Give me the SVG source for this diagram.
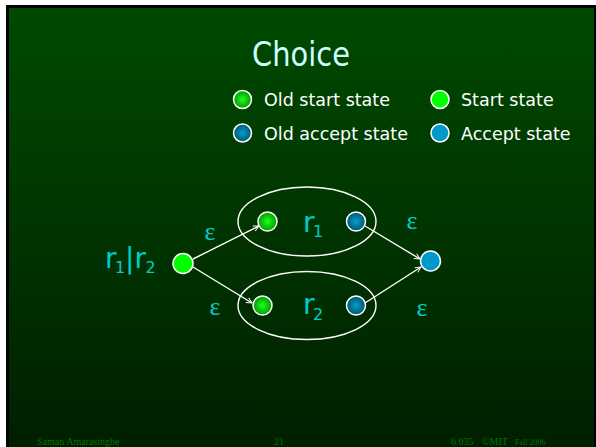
<svg xmlns="http://www.w3.org/2000/svg" width="596" height="447" viewBox="0 0 596 447">
  <defs>
    <linearGradient id="bg" x1="0" y1="0" x2="0" y2="1">
      <stop offset="0" stop-color="#004a00"/>
      <stop offset="1" stop-color="#001f00"/>
    </linearGradient>
    <radialGradient id="oldStart" cx="0.5" cy="0.5" r="0.5">
      <stop offset="0" stop-color="#22ff22"/>
      <stop offset="1" stop-color="#009a00"/>
    </radialGradient>
    <radialGradient id="oldAccept" cx="0.5" cy="0.5" r="0.5">
      <stop offset="0" stop-color="#0a9ccc"/>
      <stop offset="1" stop-color="#035670"/>
    </radialGradient>
    <marker id="arrow" viewBox="0 0 10 10" refX="9" refY="5" markerWidth="7" markerHeight="7" markerUnits="userSpaceOnUse" orient="auto">
      <path d="M1,1 L9,5 L1,9" fill="none" stroke="#ffffff" stroke-width="1.3"/>
    </marker>
    <style>
      .title { font-family: "DejaVu Sans", sans-serif; font-size: 34px; fill: #ccffff; }
      .legend { font-family: "DejaVu Sans", sans-serif; font-size: 17.5px; fill: #ffffff; }
      .lbl { font-family: "DejaVu Sans", sans-serif; font-size: 28px; fill: #00cccc; }
      .sub { font-size: 16px; }
      .eps { font-family: "Liberation Serif", serif; font-size: 26px; fill: #00cccc; text-anchor: middle; }
      .foot { font-family: "Liberation Serif", serif; font-size: 10px; fill: #007400; }
      .st { stroke: #ffffff; stroke-width: 1.5; }
      .oldstart { fill: url(#oldStart); }
      .start { fill: #00ff00; }
      .oldaccept { fill: url(#oldAccept); }
      .accept { fill: #0099cc; }
      .box { fill: none; stroke: #ffffff; stroke-width: 1.4; }
      .edge { stroke: #ffffff; stroke-width: 1.4; fill: none; marker-end: url(#arrow); }
    </style>
  </defs>

  <!-- slide frame -->
  <rect x="0" y="0" width="596" height="447" fill="#ffffff"/>
  <rect x="6" y="5" width="590" height="442" fill="#000000"/>
  <rect x="9" y="8" width="585" height="439" fill="url(#bg)"/>

  <text class="title" x="301" y="66" text-anchor="middle" textLength="98" lengthAdjust="spacingAndGlyphs">Choice</text>

  <!-- legend -->
  <g id="legend">
    <circle class="oldstart st" cx="242.5" cy="99.5" r="9"/>
    <text class="legend" x="264" y="106">Old start state</text>
    <circle class="start st" cx="440" cy="99.5" r="9"/>
    <text class="legend" x="461" y="106">Start state</text>
    <circle class="oldaccept st" cx="242.5" cy="133" r="9"/>
    <text class="legend" x="264" y="140">Old accept state</text>
    <circle class="accept st" cx="440" cy="133" r="9"/>
    <text class="legend" x="461" y="140">Accept state</text>
  </g>

  <!-- sub-machines -->
  <g id="box-r1">
    <ellipse class="box" cx="307" cy="221.5" rx="69" ry="34.5"/>
    <text class="lbl" x="303" y="231.5">r<tspan class="sub" x="313" y="237">1</tspan></text>
  </g>
  <g id="box-r2">
    <ellipse class="box" cx="307" cy="305.5" rx="69" ry="34"/>
    <text class="lbl" x="303" y="314">r<tspan class="sub" x="313" y="320">2</tspan></text>
  </g>

  <!-- connectors -->
  <g id="edges">
    <line class="edge" x1="193" y1="259" x2="259" y2="226"/>
    <line class="edge" x1="193" y1="267" x2="252" y2="303"/>
    <line class="edge" x1="365" y1="226" x2="420" y2="259"/>
    <line class="edge" x1="365" y1="303" x2="421" y2="267"/>
    <text class="eps" x="210" y="240">ε</text>
    <text class="eps" x="215" y="315">ε</text>
    <text class="eps" x="412" y="229">ε</text>
    <text class="eps" x="422" y="316">ε</text>
  </g>

  <!-- states -->
  <g id="start">
    <circle class="start st" cx="183" cy="263.5" r="10"/>
    <text class="lbl" x="105" y="268">r<tspan class="sub" x="115" y="273">1</tspan><tspan x="125" y="268">|</tspan><tspan x="134.5" y="268">r</tspan><tspan class="sub" x="145.5" y="273">2</tspan></text>
  </g>
  <g id="r1-start"><circle class="oldstart st" cx="267.5" cy="221.5" r="9.5"/></g>
  <g id="r1-accept"><circle class="oldaccept st" cx="356" cy="221.5" r="9.5"/></g>
  <g id="r2-start"><circle class="oldstart st" cx="262.5" cy="305.5" r="9.5"/></g>
  <g id="r2-accept"><circle class="oldaccept st" cx="356" cy="305.5" r="9.5"/></g>
  <g id="accept"><circle class="accept st" cx="430.5" cy="261" r="10"/></g>

  <!-- footer -->
  <text class="foot" x="37" y="445">Saman Amarasinghe</text>
  <text class="foot" x="274" y="445">21</text>
  <text class="foot" x="451" y="445">6.035</text>
  <text class="foot" x="482" y="445">©MIT</text>
  <text class="foot" x="515" y="445" style="font-size:8px">Fall 2006</text>
</svg>
